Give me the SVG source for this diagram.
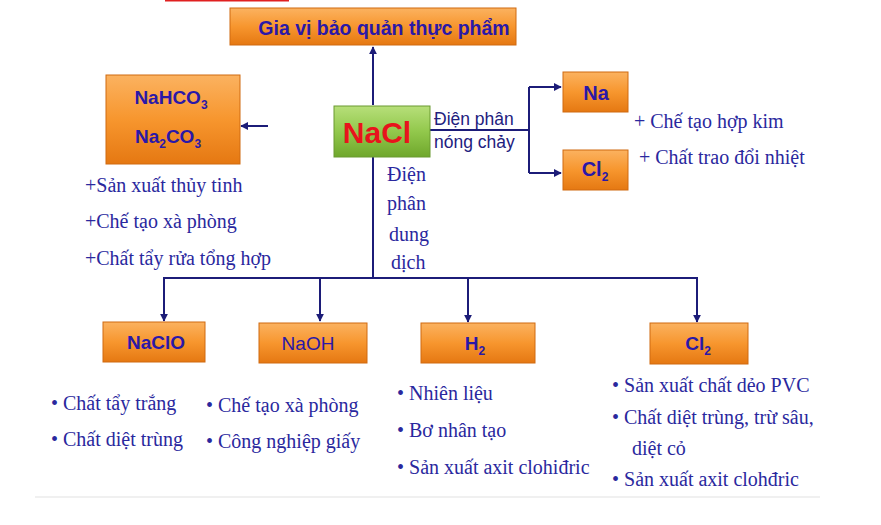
<svg xmlns="http://www.w3.org/2000/svg" width="881" height="525" viewBox="0 0 881 525">
<defs>
<linearGradient id="og" x1="0" y1="0" x2="0" y2="1">
<stop offset="0" stop-color="#fbb260"/>
<stop offset="0.5" stop-color="#f7962e"/>
<stop offset="1" stop-color="#e57812"/>
</linearGradient>
<linearGradient id="gg" x1="0" y1="0" x2="0" y2="1">
<stop offset="0" stop-color="#b7df7a"/>
<stop offset="0.5" stop-color="#92c84c"/>
<stop offset="1" stop-color="#6fa72c"/>
</linearGradient>
<marker id="ah" viewBox="0 0 10 10" refX="9" refY="5" markerWidth="4" markerHeight="4" orient="auto-start-reverse">
<path d="M0,0 L10,5 L0,10 z" fill="#1c1c78"/>
</marker>
</defs>
<style>
.ob{fill:url(#og);stroke:#d06a10;stroke-width:1}
.gb{fill:url(#gg);stroke:#6a9a30;stroke-width:1}
.bt{font-family:"Liberation Sans","Open Sans",sans-serif;font-weight:bold;fill:#2a18a8;text-anchor:middle}
.lb{font-family:"Liberation Sans","Open Sans",sans-serif;fill:#22207e;font-size:17.5px}
.tm{font-family:"Liberation Serif","DejaVu Serif",serif;fill:#2a289e;font-size:20px}
.ln{stroke:#1c1c78;stroke-width:2;fill:none}
.ar{stroke:#1c1c78;stroke-width:2;fill:none;marker-end:url(#ah)}
</style>
<rect width="881" height="525" fill="#ffffff"/>
<line x1="165" y1="0.5" x2="289" y2="0.5" stroke="#e02020" stroke-width="2"/>
<line x1="35" y1="497" x2="820" y2="497" stroke="#f0f0f0" stroke-width="2"/>

<g id="connectors">
<line class="ar" x1="373" y1="105" x2="373" y2="47"/>
<line class="ar" x1="268" y1="126" x2="241" y2="126"/>
<polyline class="ln" points="430,130 529,130"/>
<polyline class="ln" points="529,87 529,173"/>
<line class="ar" x1="529" y1="87" x2="561" y2="87"/>
<line class="ar" x1="529" y1="173" x2="561" y2="173"/>
<line class="ln" x1="373" y1="157" x2="373" y2="278"/>
<line class="ln" x1="163" y1="278" x2="698" y2="278"/>
<line class="ar" x1="164" y1="278" x2="164" y2="321"/>
<line class="ar" x1="320" y1="278" x2="320" y2="321"/>
<line class="ar" x1="468" y1="278" x2="468" y2="322"/>
<line class="ar" x1="697" y1="278" x2="697" y2="322"/>
</g>

<g id="giavi">
<rect class="ob" x="230" y="8" width="286" height="37"/>
<text class="bt" x="384" y="35" font-size="19.5">Gia vị bảo quản thực phẩm</text>
</g>

<g id="nahco3">
<rect class="ob" x="106" y="75" width="134" height="89"/>
<text class="bt" x="171" y="104" font-size="19">NaHCO<tspan font-size="12" dy="5">3</tspan></text>
<text class="bt" x="168" y="143" font-size="19">Na<tspan font-size="12" dy="5">2</tspan><tspan dy="-5">CO</tspan><tspan font-size="12" dy="5">3</tspan></text>
</g>
<g id="nahco3-uses">
<text class="tm" x="85" y="192">+Sản xuất thủy tinh</text>
<text class="tm" x="85" y="228">+Chế tạo xà phòng</text>
<text class="tm" x="85" y="265">+Chất tẩy rửa tổng hợp</text>
</g>

<g id="nacl">
<rect class="gb" x="334" y="106" width="96" height="51"/>
<text x="377" y="143" font-family="Liberation Sans, Open Sans, sans-serif" font-weight="bold" font-size="30" fill="#e8141c" text-anchor="middle">NaCl</text>
</g>

<g id="label-nongchay">
<text class="lb" x="434" y="125">Điện phân</text>
<text class="lb" x="434" y="148">nóng chảy</text>
</g>

<g id="label-dungdich">
<text class="tm" x="387" y="181">Điện</text>
<text class="tm" x="387" y="210">phân</text>
<text class="tm" x="389" y="241">dung</text>
<text class="tm" x="391" y="269">dịch</text>
</g>

<g id="na">
<rect class="ob" x="563" y="72" width="65" height="40"/>
<text class="bt" x="596" y="100" font-size="20">Na</text>
<text class="tm" x="634" y="128">+ Chế tạo hợp kim</text>
</g>

<g id="cl2-top">
<rect class="ob" x="563" y="150" width="65" height="40"/>
<text class="bt" x="595" y="176" font-size="20">Cl<tspan font-size="12" dy="5">2</tspan></text>
<text class="tm" x="639" y="164">+ Chất trao đổi nhiệt</text>
</g>

<g id="naclo">
<rect class="ob" x="103" y="322" width="102" height="40"/>
<text class="bt" x="156" y="349" font-size="19">NaClO</text>
<text class="tm" x="51" y="410">• Chất tẩy trắng</text>
<text class="tm" x="51" y="446">• Chất diệt trùng</text>
</g>

<g id="naoh">
<rect class="ob" x="259" y="323" width="108" height="40"/>
<text class="bt" x="308" y="350" font-size="19" style="font-weight:normal">NaOH</text>
<text class="tm" x="206" y="412">• Chế tạo xà phòng</text>
<text class="tm" x="206" y="448">• Công  nghiệp giấy</text>
</g>

<g id="h2">
<rect class="ob" x="421" y="323" width="114" height="40"/>
<text class="bt" x="475" y="350" font-size="19">H<tspan font-size="12" dy="5">2</tspan></text>
<text class="tm" x="397" y="400">• Nhiên liệu</text>
<text class="tm" x="397" y="437">• Bơ nhân tạo</text>
<text class="tm" x="397" y="474">• Sản xuất axit clohiđric</text>
</g>

<g id="cl2-bottom">
<rect class="ob" x="650" y="323" width="98" height="41"/>
<text class="bt" x="698" y="350" font-size="19">Cl<tspan font-size="12" dy="5">2</tspan></text>
<text class="tm" x="612" y="392">• Sản xuất chất dẻo PVC</text>
<text class="tm" x="612" y="424">• Chất diệt trùng, trừ sâu,</text>
<text class="tm" x="632" y="455">diệt cỏ</text>
<text class="tm" x="612" y="486">• Sản xuất axit clohđric</text>
</g>
</svg>
